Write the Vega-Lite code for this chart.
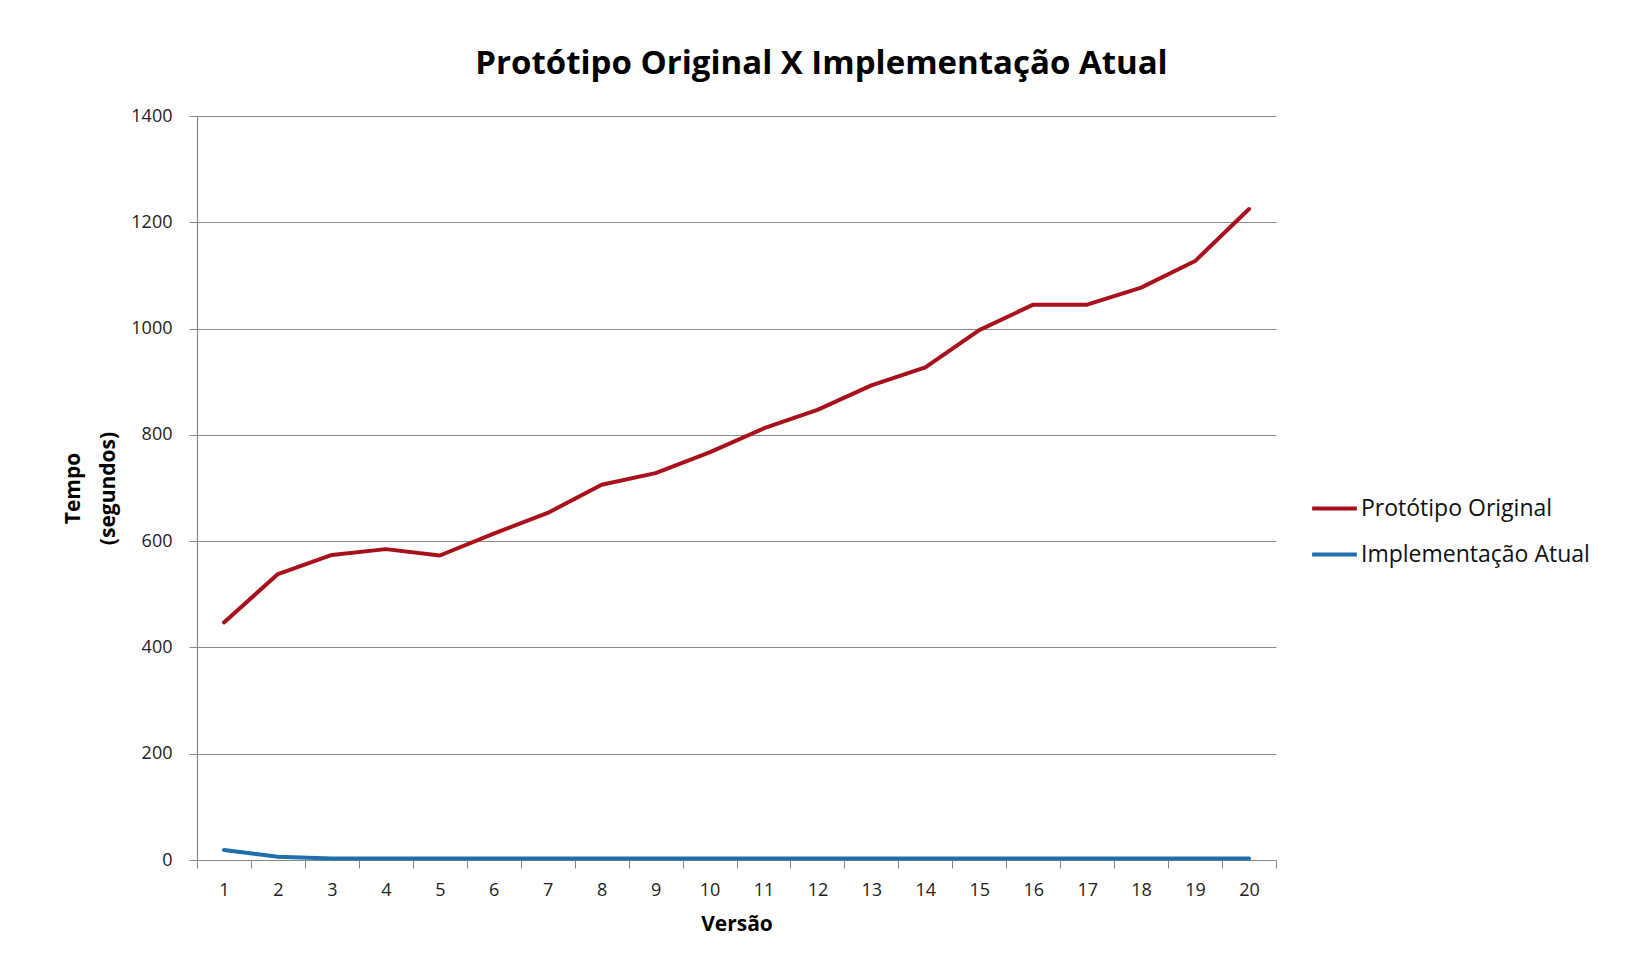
{
  "$schema": "https://vega.github.io/schema/vega-lite/v6.json",
  "autosize": {"type": "none"},
  "width": 1079,
  "height": 744,
  "padding": {"left": 197, "top": 116, "right": 358, "bottom": 100},
  "background": "white",
  "title": {
    "text": "Protótipo Original X Implementação Atual",
    "font": "Open Sans",
    "fontSize": 33,
    "fontWeight": "bold",
    "color": "#000000",
    "anchor": "middle",
    "dx": 85,
    "offset": 26
  },
  "config": {
    "view": {"stroke": null},
    "font": "Open Sans",
    "axis": {
      "domainColor": "#868686",
      "tickColor": "#868686",
      "gridColor": "#8a8a8a",
      "labelColor": "#222222",
      "titleColor": "#000000",
      "labelFont": "Open Sans",
      "titleFont": "Open Sans"
    }
  },
  "datasets": {
    "series": [
      {"versao": 1, "serie": "Protótipo Original", "tempo": 447},
      {"versao": 2, "serie": "Protótipo Original", "tempo": 538},
      {"versao": 3, "serie": "Protótipo Original", "tempo": 574},
      {"versao": 4, "serie": "Protótipo Original", "tempo": 585},
      {"versao": 5, "serie": "Protótipo Original", "tempo": 573},
      {"versao": 6, "serie": "Protótipo Original", "tempo": 614},
      {"versao": 7, "serie": "Protótipo Original", "tempo": 653},
      {"versao": 8, "serie": "Protótipo Original", "tempo": 706},
      {"versao": 9, "serie": "Protótipo Original", "tempo": 728},
      {"versao": 10, "serie": "Protótipo Original", "tempo": 767},
      {"versao": 11, "serie": "Protótipo Original", "tempo": 812},
      {"versao": 12, "serie": "Protótipo Original", "tempo": 847},
      {"versao": 13, "serie": "Protótipo Original", "tempo": 893},
      {"versao": 14, "serie": "Protótipo Original", "tempo": 927},
      {"versao": 15, "serie": "Protótipo Original", "tempo": 997},
      {"versao": 16, "serie": "Protótipo Original", "tempo": 1045},
      {"versao": 17, "serie": "Protótipo Original", "tempo": 1045},
      {"versao": 18, "serie": "Protótipo Original", "tempo": 1077},
      {"versao": 19, "serie": "Protótipo Original", "tempo": 1127},
      {"versao": 20, "serie": "Protótipo Original", "tempo": 1225},
      {"versao": 1, "serie": "Implementação Atual", "tempo": 19},
      {"versao": 2, "serie": "Implementação Atual", "tempo": 6},
      {"versao": 3, "serie": "Implementação Atual", "tempo": 3},
      {"versao": 4, "serie": "Implementação Atual", "tempo": 3},
      {"versao": 5, "serie": "Implementação Atual", "tempo": 3},
      {"versao": 6, "serie": "Implementação Atual", "tempo": 3},
      {"versao": 7, "serie": "Implementação Atual", "tempo": 3},
      {"versao": 8, "serie": "Implementação Atual", "tempo": 3},
      {"versao": 9, "serie": "Implementação Atual", "tempo": 3},
      {"versao": 10, "serie": "Implementação Atual", "tempo": 3},
      {"versao": 11, "serie": "Implementação Atual", "tempo": 3},
      {"versao": 12, "serie": "Implementação Atual", "tempo": 3},
      {"versao": 13, "serie": "Implementação Atual", "tempo": 3},
      {"versao": 14, "serie": "Implementação Atual", "tempo": 3},
      {"versao": 15, "serie": "Implementação Atual", "tempo": 3},
      {"versao": 16, "serie": "Implementação Atual", "tempo": 3},
      {"versao": 17, "serie": "Implementação Atual", "tempo": 3},
      {"versao": 18, "serie": "Implementação Atual", "tempo": 3},
      {"versao": 19, "serie": "Implementação Atual", "tempo": 3},
      {"versao": 20, "serie": "Implementação Atual", "tempo": 3}
    ]
  },
  "data": {"name": "series"},
  "mark": {"type": "line", "strokeWidth": 4, "strokeCap": "round", "strokeJoin": "round"},
  "encoding": {
    "x": {
      "field": "versao",
      "type": "ordinal",
      "sort": "ascending",
      "scale": {"type": "band", "paddingInner": 0, "paddingOuter": 0},
      "axis": {
        "title": "Versão",
        "titleFontSize": 21,
        "titleFontWeight": "bold",
        "titlePadding": 14,
        "labelAngle": 0,
        "labelFontSize": 18,
        "labelPadding": 13,
        "tickBand": "extent",
        "tickSize": 8,
        "grid": false,
        "domainWidth": 1.2
      }
    },
    "y": {
      "field": "tempo",
      "type": "quantitative",
      "scale": {"domain": [0, 1400], "nice": false},
      "axis": {
        "title": ["Tempo", "(segundos)"],
        "titleFontSize": 21,
        "titleFontWeight": "bold",
        "titlePadding": 12,
        "titleLineHeight": 35,
        "values": [0, 200, 400, 600, 800, 1000, 1200, 1400],
        "format": "d",
        "labelFontSize": 18,
        "labelPadding": 17,
        "tickSize": 8,
        "grid": true,
        "gridWidth": 1.2,
        "domainWidth": 1.2
      }
    },
    "color": {
      "field": "serie",
      "type": "nominal",
      "sort": ["Protótipo Original", "Implementação Atual"],
      "scale": {"domain": ["Protótipo Original", "Implementação Atual"], "range": ["#A8111C", "#1F6EAE"]},
      "legend": {
        "title": null,
        "orient": "none",
        "legendX": 1113,
        "legendY": 368,
        "symbolType": "stroke",
        "symbolStrokeWidth": 4,
        "symbolSize": 2000,
        "labelFontSize": 23,
        "labelFont": "Open Sans",
        "labelColor": "#111111",
        "labelLimit": 0,
        "labelOffset": 2,
        "rowPadding": 9
      }
    }
  }
}
